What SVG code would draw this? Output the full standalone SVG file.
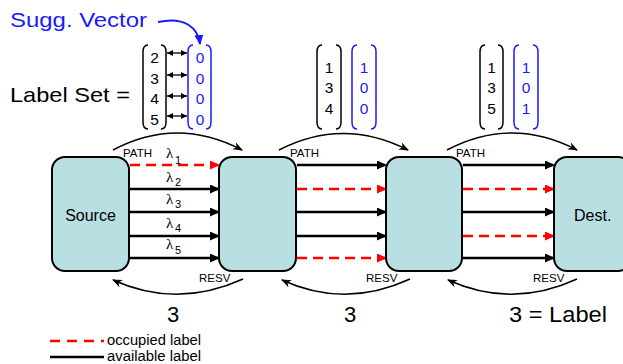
<svg xmlns="http://www.w3.org/2000/svg" width="623" height="364" viewBox="0 0 623 364">
<style>
.box{fill:#B8DFE2;stroke:#000;stroke-width:2}
.t{font-family:"Liberation Sans",Arial,sans-serif;fill:#000}
.blue{fill:#1a1aff}
.lam{font-family:"Liberation Serif","DejaVu Serif",serif;font-size:15px;fill:#000}
.sub{font-family:"Liberation Sans",Arial,sans-serif;font-size:11px;fill:#000}
.av{stroke:#000;stroke-width:2.6;fill:none;marker-end:url(#ab)}
.oc{stroke:#ff0000;stroke-width:2.6;fill:none;stroke-dasharray:10 6;marker-end:url(#ar)}
.arc{stroke:#000;stroke-width:1.6;fill:none;marker-end:url(#aa)}
.bk{stroke:#000;stroke-width:1.5;fill:none}
.bb{stroke:#1a1aff;stroke-width:1.5;fill:none}
.dbl{stroke:#000;stroke-width:1.3;marker-start:url(#ds);marker-end:url(#de)}
.num{font-family:"Liberation Sans",Arial,sans-serif;font-size:15.5px;text-anchor:middle}
</style>
<defs>
<marker id="ab" markerUnits="userSpaceOnUse" markerWidth="10" markerHeight="9" viewBox="0 0 10 9" refX="8" refY="4.5" orient="auto"><path d="M0,0 L10,4.5 L0,9 Z" fill="#000"/></marker>
<marker id="ar" markerUnits="userSpaceOnUse" markerWidth="10" markerHeight="9" viewBox="0 0 10 9" refX="8" refY="4.5" orient="auto"><path d="M0,0 L10,4.5 L0,9 Z" fill="#ff0000"/></marker>
<marker id="aa" markerUnits="userSpaceOnUse" markerWidth="10" markerHeight="8" viewBox="0 0 10 8" refX="9" refY="4" orient="auto"><path d="M0,0 L10,4 L0,8 L3,4 Z" fill="#000"/></marker>
<marker id="ab2" markerUnits="userSpaceOnUse" markerWidth="10" markerHeight="9" viewBox="0 0 10 9" refX="9" refY="4.5" orient="auto"><path d="M0,0 L10,4.5 L0,9 Z" fill="#1a1aff"/></marker>
<marker id="de" markerUnits="userSpaceOnUse" markerWidth="6" markerHeight="6" viewBox="0 0 6 6" refX="6" refY="3" orient="auto"><path d="M0,0 L6,3 L0,6 Z" fill="#000"/></marker>
<marker id="ds" markerUnits="userSpaceOnUse" markerWidth="6" markerHeight="6" viewBox="0 0 6 6" refX="0" refY="3" orient="auto"><path d="M6,0 L0,3 L6,6 Z" fill="#000"/></marker>
</defs>

<g id="title">
<text class="t blue" x="10" y="27" font-size="21" textLength="137" lengthAdjust="spacingAndGlyphs">Sugg. Vector</text>
<path d="M158,22 C185,16 198,28 200,44" stroke="#1a1aff" stroke-width="2" fill="none" marker-end="url(#ab2)"/>
<text class="t" x="10" y="102" font-size="21" textLength="120" lengthAdjust="spacingAndGlyphs">Label Set =</text>
</g>

<g id="labelset1">
<path class="bk" d="M148,45 Q143,45 143,52 L143,122 Q143,129 148,129"/>
<path class="bk" d="M161,45 Q166,45 166,52 L166,122 Q166,129 161,129"/>
<text class="num" x="154.5" y="63">2</text>
<text class="num" x="154.5" y="83.5">3</text>
<text class="num" x="154.5" y="104">4</text>
<text class="num" x="154.5" y="125">5</text>
<line class="dbl" x1="167" y1="53" x2="187" y2="53"/>
<line class="dbl" x1="167" y1="75" x2="187" y2="75"/>
<line class="dbl" x1="167" y1="96" x2="187" y2="96"/>
<line class="dbl" x1="167" y1="116" x2="187" y2="116"/>
<path class="bb" d="M193,45 Q188,45 188,52 L188,122 Q188,129 193,129"/>
<path class="bb" d="M206,45 Q211,45 211,52 L211,122 Q211,129 206,129"/>
<text class="num blue" x="200" y="63">0</text>
<text class="num blue" x="200" y="83.5">0</text>
<text class="num blue" x="200" y="104">0</text>
<text class="num blue" x="200" y="125">0</text>
</g>

<g id="labelset2">
<path class="bk" d="M322,45 Q317,45 317,52 L317,122 Q317,129 322,129"/>
<path class="bk" d="M336,45 Q341,45 341,52 L341,122 Q341,129 336,129"/>
<text class="num" x="329" y="73">1</text>
<text class="num" x="329" y="93">3</text>
<text class="num" x="329" y="114">4</text>
<path class="bb" d="M357,45 Q352,45 352,52 L352,122 Q352,129 357,129"/>
<path class="bb" d="M371,45 Q376,45 376,52 L376,122 Q376,129 371,129"/>
<text class="num blue" x="364" y="73">1</text>
<text class="num blue" x="364" y="93">0</text>
<text class="num blue" x="364" y="114">0</text>
</g>

<g id="labelset3">
<path class="bk" d="M485,45 Q480,45 480,52 L480,122 Q480,129 485,129"/>
<path class="bk" d="M498,45 Q503,45 503,52 L503,122 Q503,129 498,129"/>
<text class="num" x="491.5" y="73">1</text>
<text class="num" x="491.5" y="93">3</text>
<text class="num" x="491.5" y="114">5</text>
<path class="bb" d="M519,45 Q514,45 514,52 L514,122 Q514,129 519,129"/>
<path class="bb" d="M533,45 Q538,45 538,52 L538,122 Q538,129 533,129"/>
<text class="num blue" x="526" y="73">1</text>
<text class="num blue" x="526" y="93">0</text>
<text class="num blue" x="526" y="114">1</text>
</g>

<g id="connectors">
<path class="oc" d="M130,165 L218,165"/>
<path class="av" d="M130,189 L218,189"/>
<path class="av" d="M130,212 L218,212"/>
<path class="av" d="M130,236 L218,236"/>
<path class="av" d="M130,258 L218,258"/>

<path class="av" d="M297,165 L385,165"/>
<path class="oc" d="M297,189 L385,189"/>
<path class="av" d="M297,212 L385,212"/>
<path class="av" d="M297,236 L385,236"/>
<path class="oc" d="M297,258 L385,258"/>

<path class="av" d="M463,165 L553,165"/>
<path class="oc" d="M463,189 L553,189"/>
<path class="av" d="M463,212 L553,212"/>
<path class="oc" d="M463,236 L553,236"/>
<path class="av" d="M463,258 L553,258"/>

<path class="arc" d="M113,150 Q177,116 242,150"/>
<path class="arc" d="M279,150 Q343,117 408,150"/>
<path class="arc" d="M447,150 Q512,116 577,150"/>
<path class="arc" d="M243,279 Q177,309 113,280"/>
<path class="arc" d="M410,279 Q345,309 282,280"/>
<path class="arc" d="M577,279 Q512,309 448,280"/>

<text class="t" x="123" y="157" font-size="11.5">PATH</text>
<text class="t" x="290" y="157" font-size="11.5">PATH</text>
<text class="t" x="456" y="157" font-size="11.5">PATH</text>
<text class="t" x="199" y="282" font-size="11.5">RESV</text>
<text class="t" x="366" y="282" font-size="11.5">RESV</text>
<text class="t" x="533" y="282" font-size="11.5">RESV</text>

<text class="lam" x="166" y="158">λ</text><text class="sub" x="175" y="164">1</text>
<text class="lam" x="166" y="182">λ</text><text class="sub" x="175" y="186">2</text>
<text class="lam" x="166" y="204">λ</text><text class="sub" x="175" y="208">3</text>
<text class="lam" x="166" y="228">λ</text><text class="sub" x="175" y="232">4</text>
<text class="lam" x="166" y="249">λ</text><text class="sub" x="175" y="254">5</text>
</g>

<g id="source">
<rect class="box" x="52" y="157" width="77" height="114" rx="13"/>
<text class="t" x="90.5" y="221" font-size="16" text-anchor="middle">Source</text>
</g>
<g id="node2">
<rect class="box" x="219" y="157" width="77" height="114" rx="13"/>
</g>
<g id="node3">
<rect class="box" x="386" y="157" width="76" height="114" rx="13"/>
</g>
<g id="dest">
<rect class="box" x="554" y="157" width="77" height="114" rx="13"/>
<text class="t" x="574" y="221" font-size="16">Dest.</text>
</g>

<g id="bottom">
<text class="t" x="173" y="322" font-size="22" text-anchor="middle">3</text>
<text class="t" x="350" y="322" font-size="22" text-anchor="middle">3</text>
<text class="t" x="509" y="322" font-size="22" textLength="98" lengthAdjust="spacingAndGlyphs">3 = Label</text>
</g>

<g id="legend">
<line x1="50" y1="341" x2="104" y2="341" stroke="#ff0000" stroke-width="2.6" stroke-dasharray="10 7"/>
<text class="t" x="107" y="345" font-size="14" textLength="94" lengthAdjust="spacingAndGlyphs">occupied label</text>
<line x1="50" y1="357" x2="104" y2="357" stroke="#000" stroke-width="2.6"/>
<text class="t" x="107" y="361" font-size="14" textLength="94" lengthAdjust="spacingAndGlyphs">available label</text>
</g>
</svg>
